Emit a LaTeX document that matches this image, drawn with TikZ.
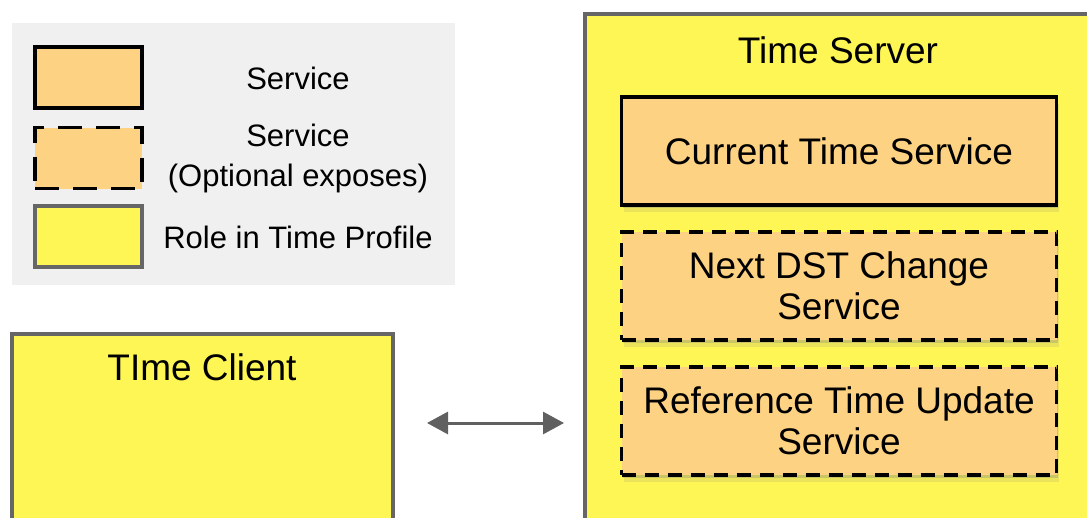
\documentclass[tikz,border=0pt]{standalone}
\usepackage{fontspec}
\setmainfont{Liberation Sans}
\usetikzlibrary{arrows.meta,shadows}

\definecolor{svcorange}{HTML}{FDD283}
\definecolor{roleyellow}{HTML}{FEF655}
\definecolor{legendgray}{HTML}{F0F0F0}
\definecolor{bordergray}{HTML}{666666}
\definecolor{arrowgray}{HTML}{606060}

\tikzset{
  softshadow/.style={
    drop shadow={shadow xshift=1pt,shadow yshift=-3pt,opacity=.30},
    drop shadow={shadow xshift=2pt,shadow yshift=-7pt,opacity=.15}},
  svcbox/.style={draw=black, fill=svcorange, line width=3.5pt, align=center,
    minimum width=435pt, minimum height=108pt,
    font=\fontsize{37}{41}\selectfont, softshadow},
  optbox/.style={svcbox, dash pattern=on 14pt off 9pt},
  rolebox/.style={draw=bordergray, fill=roleyellow, line width=4pt, softshadow},
  keybox/.style={line width=3.5pt, minimum width=107pt, minimum height=61pt},
  keytext/.style={align=center, font=\fontsize{31}{40}\selectfont},
  title/.style={font=\fontsize{37}{41}\selectfont},
  link/.style={draw=arrowgray, line width=3pt,
    {Triangle[length=21pt,width=22pt]}-{Triangle[length=21pt,width=22pt]}}
}

\begin{document}
\begin{tikzpicture}[x=1pt,y=-1pt]
\useasboundingbox (0,0) rectangle (1087,517);
\clip (0,0) rectangle (1087,517);

% legend
\fill[legendgray] (12,23) rectangle (455,285);
\node[keybox, draw=black, fill=svcorange] (keysvc) at (88.5,77.5) {};
\node[keybox, draw=black, fill=svcorange, dash pattern=on 24pt off 14pt] (keyopt) at (88.5,158) {};
\node[keybox, draw=bordergray, fill=roleyellow, line width=4pt] (keyrole) at (88.5,236.5) {};
\node[keytext] (keysvctext) at (298,78) {Service};
\node[keytext] (keyopttext) at (298,158) {Service\\(Optional exposes)};
\node[keytext] (keyroletext) at (298,237) {Role in Time Profile};

% client side
\node[rolebox, anchor=north west, minimum width=381pt, minimum height=210pt] (client) at (10,332) {};
\node[title] (clienttitle) at (202,367) {TIme Client};

% server side
\node[rolebox, anchor=north west, minimum width=517pt, minimum height=528pt] (server) at (583,12) {};
\node[title] (servertitle) at (838,50) {Time Server};
\node[svcbox] (cts) at (839,151) {Current Time Service};
\node[optbox] (ndcs) at (839,286) {Next DST Change\\Service};
\node[optbox] (rtus) at (839,421) {Reference Time Update\\Service};

\draw[link, shorten <=32pt, shorten >=19pt] (client.east |- 0,423) -- (server.west |- 0,423);
\end{tikzpicture}
\end{document}
